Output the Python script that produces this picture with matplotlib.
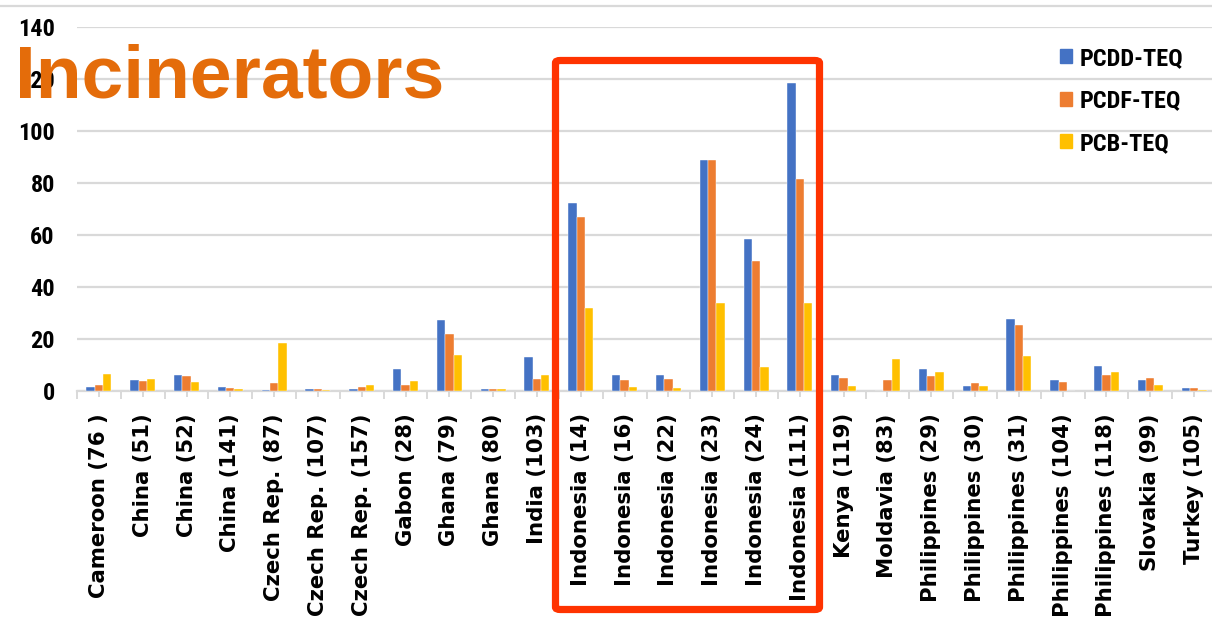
import numpy as np
import matplotlib.pyplot as plt
from matplotlib.patches import FancyBboxPatch, Patch
from matplotlib.lines import Line2D

# Sites and TEQ values per incinerator
sites = ["Cameroon (76 )", "China (51)", "China (52)", "China (141)", "Czech Rep. (87)",
         "Czech Rep. (107)", "Czech Rep. (157)", "Gabon (28)", "Ghana (79)", "Ghana (80)",
         "India (103)", "Indonesia (14)", "Indonesia (16)", "Indonesia (22)", "Indonesia (23)",
         "Indonesia (24)", "Indonesia (111)", "Kenya (119)", "Moldavia (83)", "Philippines (29)",
         "Philippines (30)", "Philippines (31)", "Philippines (104)", "Philippines (118)",
         "Slovakia (99)", "Turkey (105)"]
pcdd = [1.7, 4.2, 6.2, 1.4, 0.3, 0.6, 0.9, 8.6, 27.4, 0.6, 13.2,
        72.5, 6.0, 6.0, 88.9, 58.5, 118.6,
        6.1, 0.0, 8.6, 2.1, 27.8, 4.4, 9.6, 4.4, 1.0]
pcdf = [2.2, 3.9, 5.7, 1.3, 3.1, 0.9, 1.4, 2.5, 21.9, 0.6, 4.8,
        67.0, 4.4, 4.8, 88.9, 49.9, 81.5,
        4.9, 4.3, 5.6, 2.9, 25.4, 3.5, 6.0, 4.9, 1.3]
pcb = [6.5, 4.5, 3.5, 0.6, 18.4, 0.5, 2.5, 3.8, 13.9, 0.6, 6.1,
       31.9, 1.5, 1.2, 33.8, 9.4, 33.8,
       1.8, 12.5, 7.3, 1.8, 13.5, 0.0, 7.3, 2.2, 0.5]
series = ["PCDD-TEQ", "PCDF-TEQ", "PCB-TEQ"]
colors = ["#4472C4", "#ED7D31", "#FFC000"]
yticks = [0, 20, 40, 60, 80, 100, 120, 140]

W, H = 1212, 621
fig = plt.figure(figsize=(W / 100, H / 100), dpi=100)
ax = fig.add_axes([77 / W, 230 / H, (1216 - 77) / W, 364 / H])

narrow = ["Roboto Condensed", "Roboto"]
x = np.arange(len(sites))
bw = 0.19
for i, (vals, c) in enumerate(zip([pcdd, pcdf, pcb], colors)):
    ax.bar(x + (i - 1) * bw, vals, bw, color=c, edgecolor="white", linewidth=0.3,
           label=series[i], zorder=3)

ax.set_xlim(-0.5, len(sites) - 0.5)
ax.set_ylim(0, 140)
ax.set_yticks(yticks)
ax.yaxis.grid(True, color="#d9d9d9", linewidth=1.6, zorder=0)
ax.tick_params(axis="y", length=0, pad=16)
for lab in ax.get_yticklabels():
    lab.set_family(narrow)
    lab.set_fontstretch("condensed")
    lab.set_fontweight("bold")
    lab.set_fontsize(17.5)

ax.set_xticks(x)
ax.set_xticklabels(sites, rotation=90, fontsize=15.3, fontweight="bold", family="DejaVu Sans")
ax.set_xticks(np.arange(len(sites) + 1) - 0.5, minor=True)
ax.tick_params(axis="x", which="major", length=4, width=1.4, color="#d9d9d9", pad=12)
ax.tick_params(axis="x", which="minor", length=6, width=1.4, color="#d9d9d9")

for s in ["top", "right", "left"]:
    ax.spines[s].set_visible(False)
ax.spines["bottom"].set_color("#d9d9d9")
ax.spines["bottom"].set_linewidth(1.6)

handles = [Patch(color=c) for c in colors]
leg = fig.legend(handles, series, loc="upper left", bbox_to_anchor=(1038 / W, 1 - 25 / H),
                 frameon=False, handlelength=0.5, handleheight=0.5, handletextpad=0.3,
                 labelspacing=0.8,
                 prop={"family": narrow, "weight": "bold", "size": 17.5, "stretch": "condensed"})

# thin rule along the top of the slide
fig.add_artist(Line2D([0, 1], [1 - 6 / H, 1 - 6 / H], color="#d9d9d9", linewidth=1.6))

# highlight around the Indonesian sites
box = FancyBboxPatch((555.5 / W, 11.5 / H), (819.5 - 555.5) / W, (560.5 - 11.5) / H,
                     boxstyle="round,pad=0,rounding_size=0.004", transform=fig.transFigure,
                     fill=False, edgecolor="#FF3300", linewidth=5.2, zorder=10)
fig.add_artist(box)

fig.text(15 / W, 1 - 98 / H, "Incinerators", color="#E46C0A", fontsize=54,
         fontweight="bold", family="Liberation Sans", va="baseline", zorder=11)

fig.savefig("out.png", dpi=100)
